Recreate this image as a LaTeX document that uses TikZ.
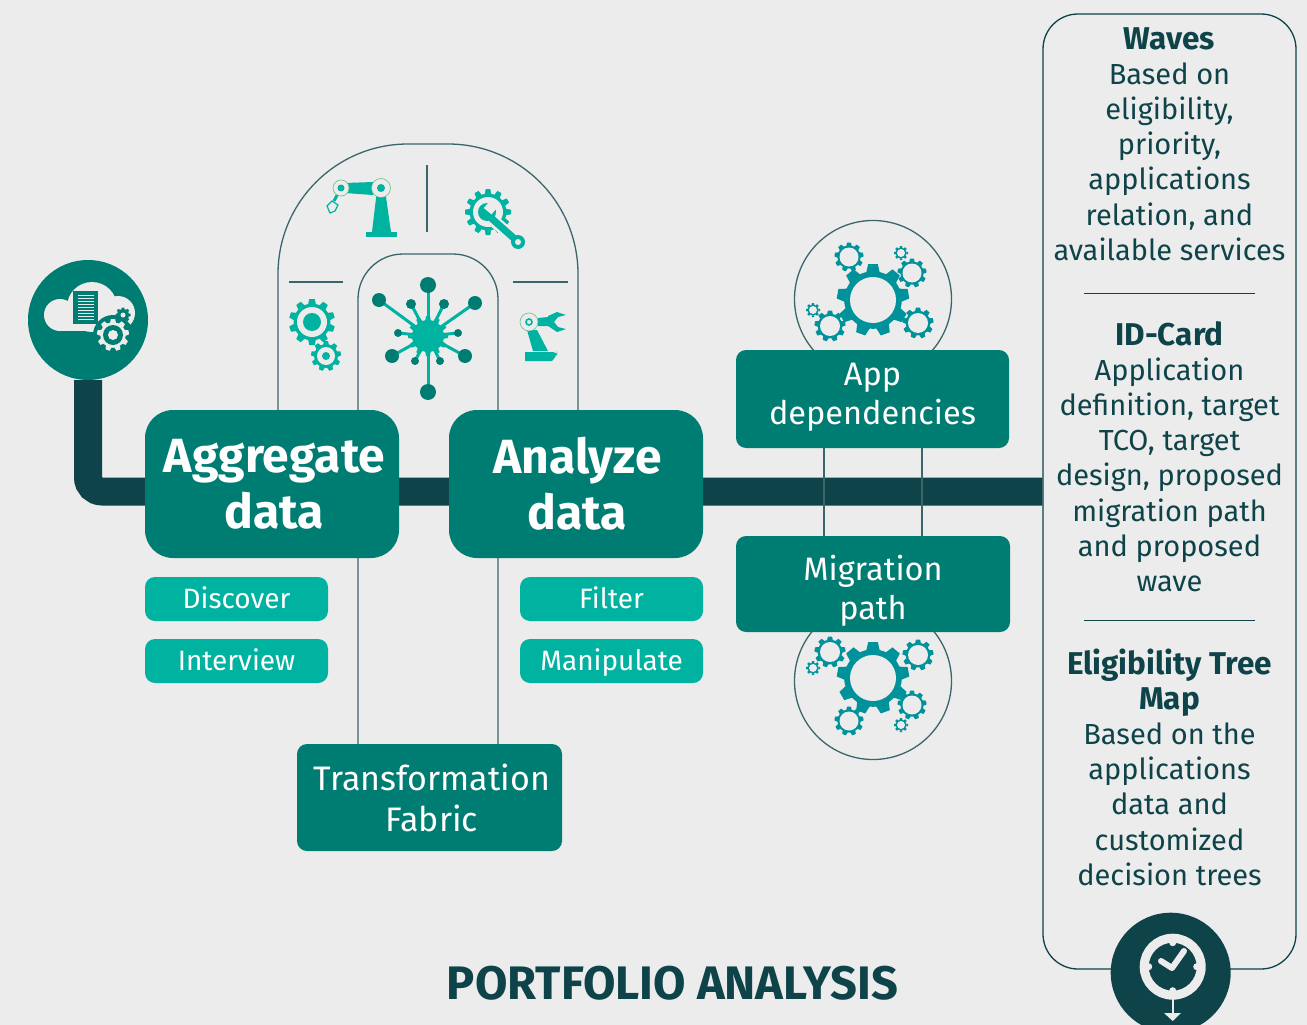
\documentclass[tikz,border=0pt]{standalone}
\usepackage{fontspec}
\setmainfont{Fira Sans}
\usetikzlibrary{positioning}
\definecolor{bgcol}{HTML}{ECECEC}
\definecolor{darkcol}{HTML}{0E4349}
\definecolor{boxcol}{HTML}{007D72}
\definecolor{lightcol}{HTML}{00B2A0}
\definecolor{gearcol}{HTML}{00929B}
\definecolor{ringcol}{HTML}{5FBF8F}
\pgfdeclarelayer{bg}
\pgfsetlayers{bg,main}
\newcommand{\boldhead}[1]{{\fontsize{31.5}{35.2}\selectfont\bfseries #1}}
\tikzset{
	bigbox/.style={fill=boxcol,text=white,rounded corners=28pt,minimum width=254pt,minimum height=148pt,align=center,font=\fontsize{48}{56}\selectfont\bfseries},
	midbox/.style={fill=boxcol,text=white,rounded corners=10pt,align=center,font=\fontsize{32.5}{39}\selectfont},
	tagbox/.style={fill=lightcol,text=white,rounded corners=10pt,minimum width=183pt,minimum height=44pt,text height=22pt,text depth=4pt,font=\fontsize{28}{30}\selectfont},
	thinline/.style={draw=darkcol!80!bgcol,line width=1.3pt},
	panelsep/.style={draw=darkcol,line width=1pt},
	roundicon/.style={circle,minimum size=120pt,inner sep=0pt},
	paneltext/.style={text=darkcol,align=center,font=\fontsize{29}{35.2}\selectfont},
}
\newcommand{\geartooth}[7]{
	\begin{scope}[shift={(#1,#2)}]
		\fill[#7] (0,0) circle ({#3*0.8});
		\foreach \k in {1,...,#5}
			\fill[#7,rotate={\k*360/#5}] ({-1.7*#3/#5},{-0.75*#3}) -- ({-1.2*#3/#5},{-#3}) -- ({1.2*#3/#5},{-#3}) -- ({1.7*#3/#5},{-0.75*#3}) -- cycle;
		\fill[#6] (0,0) circle (#4);
	\end{scope}
}
\newcommand{\gearset}[2]{
	\geartooth{873}{#1+#2*3}{36}{23}{9}{bgcol}{gearcol}
	\geartooth{849}{#1-#2*40}{14.5}{9.5}{9}{bgcol}{gearcol}
	\geartooth{912}{#1-#2*24}{14.5}{9.5}{9}{bgcol}{gearcol}
	\geartooth{901}{#1-#2*44}{7}{4}{8}{bgcol}{gearcol}
	\geartooth{918}{#1+#2*26}{15.5}{10}{9}{bgcol}{gearcol}
	\geartooth{830}{#1+#2*29}{15.5}{10}{9}{bgcol}{gearcol}
	\geartooth{813}{#1+#2*13}{7}{4}{8}{bgcol}{gearcol}
}
\begin{document}
\begin{tikzpicture}[x=1pt,y=-1pt]
	\path[use as bounding box,clip] (0,0) rectangle (1307,1025);
	\node[roundicon,fill=boxcol] (cloudicon) at (88,320) {};
	\node[bigbox] (aggregate) at (272,484) {\hspace*{5pt}Aggregate\\\hspace*{5pt}data};
	\node[bigbox] (analyze) at (576,484) {\hspace*{3pt}Analyze\\\hspace*{3pt}data};
	\node[tagbox] (discover) at (236.5,599) {Discover};
	\node[tagbox] (interview) at (236.5,661) {Interview};
	\node[tagbox] (filter) at (611.5,599) {Filter};
	\node[tagbox] (manipulate) at (611.5,661) {Manipulate};
	\node[midbox,font=\fontsize{34}{41}\selectfont,minimum width=265pt,minimum height=107pt] (fabric) at (429.5,797.5) {\hspace*{5pt}Transformation\\\hspace*{5pt}Fabric};
	\node[midbox,minimum width=273pt,minimum height=98pt] (appdep) at (872.5,399) {App\\dependencies\rule[-10pt]{0pt}{1pt}};
	\node[midbox,minimum width=274pt,minimum height=96pt] (migration) at (873,584) {\rule{0pt}{39pt}Migration\\path};
	\node[draw=darkcol,line width=1.3pt,fill=bgcol,rounded corners=35pt,minimum width=253pt,minimum height=955pt] (sidepanel) at (1169.5,491.5) {};
	\node[roundicon,fill=darkcol] (clockicon) at (1170.7,972.7) {};
	\begin{pgfonlayer}{bg}
		\fill[bgcol] (0,0) rectangle (1307,1025);
		\draw[darkcol,line width=28pt,rounded corners=14pt] (cloudicon.south) |- (sidepanel.west);
		\coordinate (archl) at (278,0);
		\coordinate (archr) at (578,0);
		\coordinate (innerl) at (358,0);
		\coordinate (innerr) at (498,0);
		\coordinate (linkl) at (824,0);
		\coordinate (linkr) at (922,0);
		\draw[thinline,rounded corners=130pt] (archl |- aggregate.north) -- (278,144) -- (578,144) -- (archr |- analyze.north);
		\draw[thinline,rounded corners=45pt] (innerl |- fabric.north) -- (358,254) -- (498,254) -- (innerr |- fabric.north);
		\draw[thinline] (linkl |- appdep.south) -- (linkl |- migration.north);
		\draw[thinline] (linkr |- appdep.south) -- (linkr |- migration.north);
		\node[circle,thinline,minimum size=157pt,inner sep=0pt] (topring) at (873,299) {};
		\node[circle,thinline,minimum size=157pt,inner sep=0pt] (bottomring) at (873,681) {};
		\gearset{297}{1}
		\gearset{681}{-1}
	\end{pgfonlayer}
	\node[paneltext] (waves) at (1169.5,144) {\boldhead{Waves}\\Based on\\eligibility,\\priority,\\applications\\relation, and\\available services};
	\node[paneltext] (idcard) at (1169.5,456.5) {\boldhead{ID-Card}\\Application\\definition, target\\TCO, target\\design, proposed\\migration path\\and proposed\\wave};
	\node[paneltext] (tree) at (1169.5,767) {\boldhead{Eligibility Tree}\\\boldhead{Map}\\Based on the\\applications\\data and\\customized\\decision trees};
	\node[text=darkcol,font=\fontsize{47}{52}\selectfont\bfseries] (title) at (672.5,983) {PORTFOLIO ANALYSIS};
	\draw[panelsep] (1084,293) -- (1255,293);
	\draw[panelsep] (1084,620) -- (1255,620);
	\draw[thinline] (427,165) -- (427,232);
	\draw[thinline] (289,282) -- (343,282);
	\draw[thinline] (513,282) -- (568,282);
	\fill[bgcol] (60,315) circle (16);
	\fill[bgcol] (92,307) circle (25);
	\fill[bgcol] (118,313) circle (17);
	\fill[bgcol] (60,316) rectangle (120,331);
	\fill[boxcol] (113,335) circle (20);
	\fill[boxcol] (73,291) rectangle (98,324);
	\foreach \r in {295,298,...,319}
		\draw[bgcol,line width=1pt] (78,\r) -- (94,\r);
	\geartooth{123}{315}{7.5}{3}{8}{boxcol}{boxcol}
	\fill[bgcol] (123,315) circle (2.5);
	\draw[boxcol,line width=1pt] (123,315) circle (4.5);
	\geartooth{113}{335}{16}{10}{9}{boxcol}{bgcol}
	\fill[bgcol] (113,335) circle (5);
	\draw[bgcol,line width=9pt] (1172.7,966.7) circle (28.5);
	\foreach \a in {0,90,180,270}
		\fill[bgcol,shift={(1172.7,966.7)},rotate=\a] (0,-24) circle (3.5);
	\draw[bgcol,line width=6pt,line join=round,line cap=round] (1161,961) -- (1172,968) -- (1184,951);
	\draw[bgcol,line width=2pt] (1172.7,999) -- (1172.7,1014);
	\fill[bgcol] (1164,1013) -- (1181,1013) -- (1172.7,1021) -- cycle;
	\fill[lightcol] (366,232) rectangle (397,237);
	\fill[lightcol] (372,232) -- (391,232) -- (385,190) -- (377,190) -- cycle;
	\fill[lightcol] (345,183) -- (373,182) -- (373,195) -- (345,193) -- cycle;
	\draw[lightcol,line width=3pt] (341,188) -- (334,201);
	\draw[lightcol,line width=1.2pt] (332,201) -- (338,205) -- (335,211) -- (330,213) -- (327,206) -- cycle;
	\fill[bgcol] (381,188) circle (9.5);
	\draw[ringcol,line width=0.6pt] (381,188) circle (9.5);
	\fill[lightcol] (381,188) circle (4);
	\fill[bgcol] (341,188) circle (8);
	\draw[ringcol,line width=0.6pt] (341,188) circle (8);
	\fill[lightcol] (341,188) circle (3.5);
	\geartooth{488}{212}{23}{15}{12}{bgcol}{lightcol}
	\draw[bgcol,line width=12pt] (495,222) -- (517,241);
	\draw[lightcol,line width=7pt] (490,217) -- (517,241);
	\fill[lightcol] (487,212) circle (9);
	\fill[bgcol,rotate around={-40:(487,212)}] (482,199) rectangle (492,211);
	\fill[lightcol] (518,242) circle (7);
	\fill[bgcol] (518,242) circle (3);
	\geartooth{312}{322}{23}{15}{10}{bgcol}{lightcol}
	\fill[lightcol] (312,322) circle (9);
	\geartooth{326}{356}{15}{9}{9}{bgcol}{lightcol}
	\fill[lightcol] (326,356) circle (4);
	\foreach \tx/\ty/\tr in {428/285/8,428/392/8,379/300/7,475/303/7,392/356/7,465/356/7,411/304/5,444/304/5,398/333/4,458/333/4,415/361/4,440/361/4} {
		\draw[lightcol,line width=3pt] (428,336) -- (\tx,\ty);
		\fill[boxcol] (\tx,\ty) circle (\tr);
	}
	\geartooth{428}{336}{20}{0}{12}{bgcol}{lightcol}
	\fill[lightcol] (538,318) -- (548,317) -- (548,326) -- (538,326) -- cycle;
	\fill[lightcol] (548,316) -- (557,312) -- (566,315) -- (558,317) -- (554,322) -- (558,327) -- (566,329) -- (557,332) -- (548,326) -- cycle;
	\fill[lightcol] (527,330) -- (537,330) -- (548,351) -- (533,351) -- cycle;
	\fill[lightcol,rounded corners=4pt] (525,352) -- (557,352) -- (557,355) [sharp corners] -- (552,361) -- (525,361) -- cycle;
	\fill[bgcol] (529,322) circle (9);
	\draw[ringcol,line width=0.6pt] (529,322) circle (9);
	\draw[lightcol,line width=1.6pt] (529,322) circle (3);
\end{tikzpicture}
\end{document}
